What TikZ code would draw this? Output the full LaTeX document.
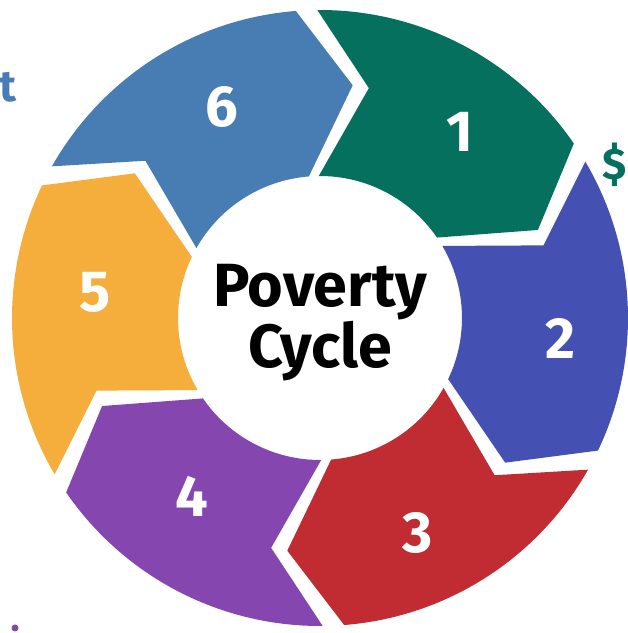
\documentclass[tikz,border=0pt]{standalone}
\usepackage{fontspec}
\setmainfont{Fira Sans}
\usetikzlibrary{positioning}
\definecolor{cycgreen}{HTML}{05705E}
\definecolor{cycindigo}{HTML}{4450B2}
\definecolor{cycred}{HTML}{C12B32}
\definecolor{cycpurple}{HTML}{8546B0}
\definecolor{cycorange}{HTML}{F5AE3C}
\definecolor{cycblue}{HTML}{487DB3}
\tikzset
{
    numlabel/.style = {text=white, inner sep=0pt, font=\bfseries\fontsize{58}{58}\selectfont},
    title/.style    = {align=center, inner sep=0pt, font=\bfseries\fontsize{61}{54}\selectfont},
    edgetext/.style = {inner sep=0pt, font=\bfseries\fontsize{44}{44}\selectfont}
}

\begin{document}
\begin{tikzpicture}[x=1pt, y=1pt]
    \clip (0,0) rectangle (628,633);
    \fill[white] (0,0) rectangle (628,633);
    \node [edgetext, text=cycblue, anchor=base west] (tleft) at (-1,531) {t};
    \node [edgetext, text=cycgreen, anchor=base east] (dollar) at (627,453) {\$};
    \fill [cycpurple] (15,5) circle (3.5);
    \begin{scope}[shift={(320,315)}]
        \foreach \num/\col/\e/\lab/\rad in {1/cycgreen/34.5/53/233, 2/cycindigo/-25.5/-4.8/241, 3/cycred/-85.5/-65.5/236,
                                           4/cycpurple/-145.5/-125.6/220, 5/cycorange/154.5/173.4/226, 6/cycblue/94.5/115/233}
        {
            \pgfmathsetmacro{\s}{\e+56}
            \pgfmathsetmacro{\tip}{\e-12.5}
            \pgfmathsetmacro{\notch}{\s-12.5}
            \fill [\col] (\s:308) arc [start angle=\s, end angle=\e, radius=308]
                -- (\tip:235) -- (\e:142) arc [start angle=\e, end angle=\s, radius=142]
                -- (\notch:235) -- cycle;
            \node [numlabel] (step\num) at (\lab:\rad) {\num};
        }
        \node [title] (cycle) at (0,-5) {Poverty\\Cycle};
    \end{scope}
\end{tikzpicture}
\end{document}
